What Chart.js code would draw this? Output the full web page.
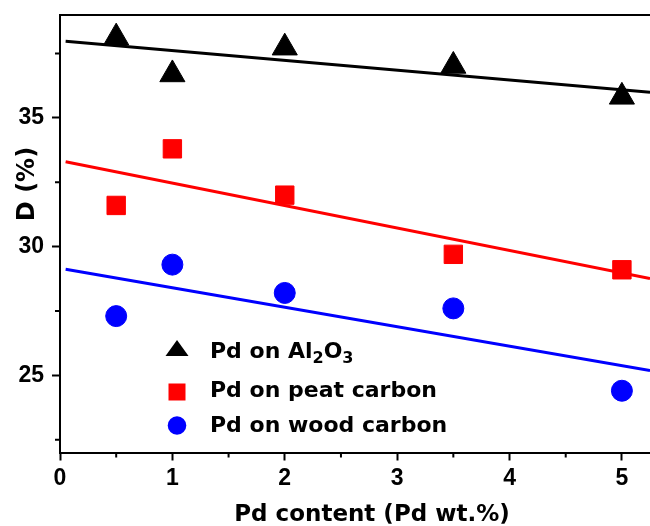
<!DOCTYPE html>
<html>
<head>
<meta charset="utf-8">
<script src="https://cdn.jsdelivr.net/npm/chart.js"></script>
<style>
  body { margin: 0; background: #fff; }
  #wrap { width: 650px; height: 526px; }
</style>
</head>
<body>
<div id="wrap"><canvas id="dispersionChart"></canvas></div>

<script>
  // Pd loading (wt.%), same for the three supports
  const pdContent = [0.5, 1, 2, 3.5, 5];
  // dispersion D (%)
  const aluminaD = [38.12, 36.69, 37.73, 37.02, 35.82];
  const peatD = [31.6, 33.8, 32.0, 29.7, 29.1];
  const woodD = [27.3, 29.3, 28.2, 27.6, 24.4];

  // linear fits, read at both ends of the drawn lines
  const fitX = [0.05, 5.25];
  const aluminaFit = [37.98, 36.0];
  const peatFit = [33.3, 28.76];
  const woodFit = [29.12, 25.19];

  const xTicks = [0, 1, 2, 3, 4, 5];
  const xMinorTicks = [0.5, 1.5, 2.5, 3.5, 4.5];
  const yTicks = [25, 30, 35];
  const yMinorTicks = [22.5, 27.5, 32.5, 37.5];

  const xTitle = 'Pd content (Pd wt.%)';
  const yTitle = 'D (%)';
  // legend labels, split in [text, isSubscript] parts
  const legendLabels = [
    [['Pd on Al', false], ['2', true], ['O', false], ['3', true]],
    [['Pd on peat carbon', false]],
    [['Pd on wood carbon', false]]
  ];

  const toPoints = (xs, ys) => xs.map((x, i) => ({x: x, y: ys[i]}));

  const textFont = "'DejaVu Sans', sans-serif";

  // frame top line, minor ticks, axis titles and the legend inside the plot
  const decorPlugin = {
    id: 'decor',
    afterDraw(chart) {
      const ctx = chart.ctx;
      const area = chart.chartArea;
      const xs = chart.scales.x;
      const ys = chart.scales.y;
      ctx.save();
      ctx.strokeStyle = '#000';
      ctx.lineWidth = 2;

      ctx.beginPath();
      ctx.moveTo(area.left - 1, area.top);
      ctx.lineTo(area.right, area.top);
      ctx.stroke();

      ctx.beginPath();
      xMinorTicks.forEach((v) => {
        const px = xs.getPixelForValue(v);
        ctx.moveTo(px, area.bottom);
        ctx.lineTo(px, area.bottom + 5);
      });
      yMinorTicks.forEach((v) => {
        const py = ys.getPixelForValue(v);
        ctx.moveTo(area.left - 5, py);
        ctx.lineTo(area.left, py);
      });
      ctx.stroke();

      ctx.fillStyle = '#000';
      ctx.font = 'bold 23px ' + textFont;
      ctx.textAlign = 'center';
      ctx.textBaseline = 'alphabetic';
      ctx.fillText(xTitle, 372, 521);

      ctx.save();
      ctx.translate(34, 184);
      ctx.rotate(-Math.PI / 2);
      ctx.font = 'bold 24px ' + textFont;
      ctx.fillText(yTitle, 0, 0);
      ctx.restore();

      // legend symbols
      ctx.fillStyle = '#000';
      ctx.beginPath();
      ctx.moveTo(177, 340);
      ctx.lineTo(188.5, 356);
      ctx.lineTo(165.5, 356);
      ctx.closePath();
      ctx.fill();

      ctx.fillStyle = '#ff0000';
      ctx.fillRect(168.5, 383.5, 17, 17);

      ctx.fillStyle = '#0000ff';
      ctx.beginPath();
      ctx.arc(177, 425.5, 9.3, 0, Math.PI * 2);
      ctx.fill();

      // legend text
      const baselines = [357.5, 397, 432];
      ctx.fillStyle = '#000';
      ctx.textAlign = 'left';
      legendLabels.forEach((parts, i) => {
        let x = 210;
        parts.forEach(([txt, sub]) => {
          ctx.font = sub ? 'bold 16px ' + textFont : 'bold 22px ' + textFont;
          ctx.fillText(txt, x, baselines[i] + (sub ? 5.5 : 0));
          x += ctx.measureText(txt).width;
        });
      });
      ctx.restore();
    }
  };

  const tickFont = {family: "'Liberation Sans', Arial, sans-serif", weight: 'bold', size: 23};

  new Chart('dispersionChart', {
    type: 'scatter',
    data: {
      datasets: [
        {
          data: toPoints(pdContent, aluminaD),
          pointStyle: 'triangle', pointRadius: 14.5,
          backgroundColor: '#000', borderColor: '#000', borderWidth: 1,
          order: 0
        },
        {
          data: toPoints(pdContent, peatD),
          pointStyle: 'rect', pointRadius: 13,
          backgroundColor: '#ff0000', borderColor: '#ff0000', borderWidth: 1,
          order: 0
        },
        {
          data: toPoints(pdContent, woodD),
          pointStyle: 'circle', pointRadius: 10.5,
          backgroundColor: '#0000ff', borderColor: '#0000ff', borderWidth: 1,
          order: 0
        },
        {
          data: toPoints(fitX, aluminaFit),
          showLine: true, pointRadius: 0, borderColor: '#000', borderWidth: 3,
          order: 1
        },
        {
          data: toPoints(fitX, peatFit),
          showLine: true, pointRadius: 0, borderColor: '#ff0000', borderWidth: 3,
          order: 1
        },
        {
          data: toPoints(fitX, woodFit),
          showLine: true, pointRadius: 0, borderColor: '#0000ff', borderWidth: 3,
          order: 1
        }
      ]
    },
    options: {
      responsive: true,
      maintainAspectRatio: false,
      animation: false,
      events: [],
      layout: {autoPadding: false, padding: {top: 15, right: 0, bottom: 0, left: 0}},
      plugins: {
        legend: {display: false},
        tooltip: {enabled: false}
      },
      scales: {
        x: {
          type: 'linear',
          min: 0,
          max: 5.25,
          afterFit(scale) {
            scale.height = 73.5;
            scale.paddingLeft = 0;
            scale.paddingRight = 0;
          },
          afterBuildTicks(scale) { scale.ticks = xTicks.map((v) => ({value: v})); },
          border: {display: true, color: '#000', width: 2},
          grid: {drawOnChartArea: false, drawTicks: true, tickLength: 8, tickColor: '#000', tickWidth: 2},
          ticks: {color: '#000', font: tickFont, padding: 4, maxRotation: 0, autoSkip: false}
        },
        y: {
          type: 'linear',
          min: 22,
          max: 39,
          afterFit(scale) {
            scale.width = 60;
            scale.paddingTop = 0;
            scale.paddingBottom = 0;
          },
          afterBuildTicks(scale) { scale.ticks = yTicks.map((v) => ({value: v})); },
          border: {display: true, color: '#000', width: 2},
          grid: {drawOnChartArea: false, drawTicks: true, tickLength: 8, tickColor: '#000', tickWidth: 2},
          ticks: {color: '#000', font: tickFont, padding: 8}
        }
      }
    },
    plugins: [decorPlugin]
  });
</script>
</body>
</html>
